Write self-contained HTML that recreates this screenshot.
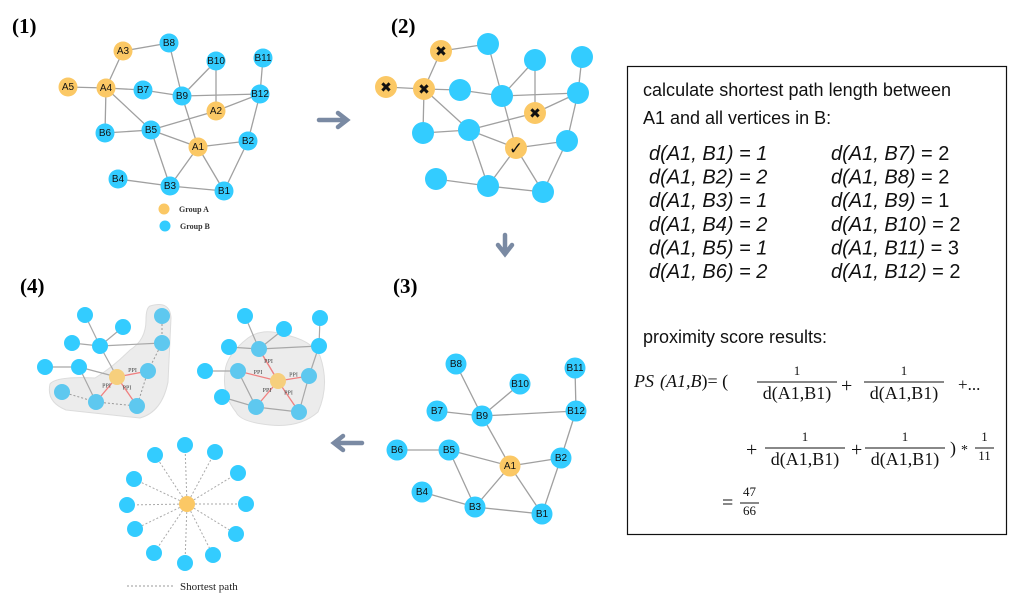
<!DOCTYPE html>
<html><head><meta charset="utf-8"><style>
body{margin:0;background:#fff;}
svg{display:block;}
.lbl{font-family:"Liberation Serif",serif;font-weight:bold;font-size:21px;}
.nl{font-family:"Liberation Sans",sans-serif;font-size:10px;text-anchor:middle;dominant-baseline:central;fill:#111;}
.t{font-family:"Liberation Sans",sans-serif;font-size:18px;fill:#111;}
.d{font-family:"Liberation Sans",sans-serif;font-size:20px;fill:#111;}
.m{font-family:"Liberation Serif","DejaVu Serif",serif;fill:#111;}
</style></head><body>
<svg id="s" width="1021" height="597" viewBox="0 0 1021 597" xmlns="http://www.w3.org/2000/svg">
<text class="lbl" x="12" y="33">(1)</text>
<text class="lbl" x="391" y="33">(2)</text>
<text class="lbl" x="20" y="293">(4)</text>
<text class="lbl" x="393" y="293">(3)</text>
<path d="M150,306 Q170,300 171,318 L168,382 Q162,412 140,418 L66,410 Q46,402 50,384 Q56,376 95,378 Q112,368 130,350 Q146,340 146,320 Q146,308 150,306 Z" fill="#ececec" stroke="#dcdcdc"/>
<path d="M248,338 Q262,328 282,334 Q312,340 320,356 Q330,385 318,412 Q300,428 270,425 Q240,422 236,412 Q222,395 225,372 Q226,355 248,338 Z" fill="#ececec" stroke="#dcdcdc"/>
<g id="g"></g>
<g fill="none" stroke="#7a8aa3" stroke-width="4.5" stroke-linecap="round">
<path d="M319,120 H345 M338,113 L347,120 L338,127"/>
<path d="M505,235 V252 M498,245 L505,254 L512,245"/>
<path d="M362,443 H336 M343,436 L334,443 L343,450"/>
</g>
<circle cx="164" cy="209" r="5.5" fill="#fbc865"/>
<text x="179" y="212" font-family="Liberation Serif,serif" font-size="8" font-weight="bold" fill="#333">Group A</text>
<circle cx="165" cy="226" r="5.5" fill="#33ccff"/>
<text x="180" y="229" font-family="Liberation Serif,serif" font-size="8" font-weight="bold" fill="#333">Group B</text>
<line x1="127" y1="586" x2="173" y2="586" stroke="#999" stroke-dasharray="2,2"/>
<text x="180" y="590" font-family="Liberation Serif,serif" font-size="11" fill="#222">Shortest path</text>
<rect x="627.5" y="66.5" width="379" height="468" fill="none" stroke="#111" stroke-width="1.2"/>
<text class="t" x="643" y="96" textLength="308">calculate shortest path length between</text>
<text class="t" x="643" y="124">A1 and all vertices in B:</text>
<g id="dl"></g>
<text class="t" x="643" y="343">proximity score results:</text>
<g class="m">
<text x="634" y="387" font-size="18" font-style="italic">PS</text>
<text x="660" y="387" font-size="18"><tspan font-style="italic">(A1,B</tspan>)= (</text>
<g id="fr"></g>
<text x="841" y="392" font-size="20">+</text>
<text x="958" y="390" font-size="17">+...</text>
<text x="746" y="456" font-size="20">+</text>
<text x="851" y="456" font-size="20">+</text>
<text x="950" y="454" font-size="18">)</text>
<text x="961" y="454" font-size="14">*</text>
<text x="722" y="509" font-size="20">=</text>
</g>
</svg>
<script>
const NS="http://www.w3.org/2000/svg";
const G=document.getElementById('g');
function mk(t,a,p){const e=document.createElementNS(NS,t);for(const k in a)e.setAttribute(k,a[k]);(p||G).appendChild(e);return e;}
const p1Names=["A3","B8","B10","B11","A5","A4","B7","B9","B12","A2","B6","B5","A1","B2","B4","B3","B1"];
const p1X=[123,169,216,263,68,106,143,182,260,216,105,151,198,248,118,170,224];
const p1Y=[51,43,61,58,87,88,90,96,94,111,133,130,147,141,179,186,191];
const p1Edges=[["A3","B8"],["A3","A4"],["A5","A4"],["A4","B7"],["B7","B9"],["B9","B12"],["B8","B9"],["B9","B10"],["B10","A2"],["A2","B12"],["B11","B12"],["A4","B6"],["A4","B5"],["B6","B5"],["B5","A2"],["B5","A1"],["B9","A1"],["A1","B2"],["B2","B12"],["A1","B3"],["A1","B1"],["B5","B3"],["B4","B3"],["B3","B1"],["B2","B1"]];
const p2X=[441,488,535,582,386,424,460,502,578,535,423,469,516,567,436,488,543];
const p2Y=[51,44,60,57,87,89,90,96,93,113,133,130,148,141,179,186,192];
const p2Marks={"A3":"✖","A5":"✖","A4":"✖","A2":"✖","A1":"✓"};
const p3Names=["B8","B10","B11","B7","B9","B12","B6","B5","A1","B2","B4","B3","B1"];
const p3X=[456,520,575,437,482,576,397,449,510,561,422,475,542];
const p3Y=[364,384,368,411,416,411,450,450,466,458,492,507,514];
const p3Edges=[["B8","B9"],["B10","B9"],["B7","B9"],["B9","B12"],["B11","B12"],["B9","A1"],["B6","B5"],["B5","A1"],["A1","B2"],["B2","B12"],["B5","B3"],["B4","B3"],["A1","B3"],["A1","B1"],["B3","B1"],["B2","B1"]];
const c4X=[85,123,72,100,45,79,162,162,148,62,96,137];
const c4Y=[315,327,343,346,367,367,316,343,371,392,402,406];
const c4Center=[117,377];
const c4bX=[245,284,229,259,205,238,320,319,309,222,256,299];
const c4bY=[316,329,347,349,371,371,318,346,376,397,407,412];
const c4bCenter=[278,381];
const starX=[185,155,215,134,238,127,246,135,236,154,213,185];
const starY=[445,455,452,479,473,505,504,529,534,553,555,563];
const starC=[187,504];
const dist=[["B1",1],["B2",2],["B3",1],["B4",2],["B5",1],["B6",2],["B7",2],["B8",2],["B9",1],["B10",2],["B11",3],["B12",2]];

const O="#fbc865",B="#33ccff",LB="#5ec8ef";
function drawNet(names,xs,ys,edges,r,labels,marks,tag){
  const idx={};names.forEach((n,i)=>idx[n]=i);
  edges.forEach(e=>{const a=idx[e[0]],b=idx[e[1]];
    const l=mk('line',{x1:xs[a],y1:ys[a],x2:xs[b],y2:ys[b],stroke:'#a0a0a0','stroke-width':1.3});
    
    });
  names.forEach((n,i)=>{
    const c=mk('circle',{cx:xs[i],cy:ys[i],r:r,fill:n[0]=='A'?O:B});
    
    
    if(labels){const t=mk('text',{x:xs[i],y:ys[i]+0.5,class:'nl'});t.textContent=n;
      
      }
    if(marks&&marks[n]){const t=mk('text',{x:xs[i],y:ys[i]+1,'font-size':marks[n]=='✓'?17:14,'font-weight':'bold','text-anchor':'middle','dominant-baseline':'central',fill:'#111','font-family':'DejaVu Sans,sans-serif'});t.textContent=marks[n];
      
      }
  });
}
drawNet(p1Names,p1X,p1Y,p1Edges,9.5,true,null,'p1');
drawNet(p1Names,p2X,p2Y,p1Edges,11,false,p2Marks,'p2');
drawNet(p3Names,p3X,p3Y,p3Edges,10.5,true,null,'p3');

function drawCluster(xs,ys,cen,tag,grayE,dashE,redE,inside){
  grayE.forEach(e=>{const a=e[0]<0?cen:[xs[e[0]],ys[e[0]]],b=[xs[e[1]],ys[e[1]]];
    const l=mk('line',{x1:a[0],y1:a[1],x2:b[0],y2:b[1],stroke:'#a8a8a8','stroke-width':1.2});
    
    });
  dashE.forEach(e=>{const l=mk('line',{x1:xs[e[0]],y1:ys[e[0]],x2:xs[e[1]],y2:ys[e[1]],stroke:'#999','stroke-width':1,'stroke-dasharray':'2,2'});
    
    });
  redE.forEach(i=>{const l=mk('line',{x1:cen[0],y1:cen[1],x2:xs[i],y2:ys[i],stroke:'#f08080','stroke-width':1.3});
    
    
    const mx=(cen[0]+xs[i])/2,my=(cen[1]+ys[i])/2;
    const t=mk('text',{x:mx,y:my-2,'font-size':6,'text-anchor':'middle','font-family':'Liberation Serif,serif',fill:'#444'});t.textContent='PPI';
    
    });
  xs.forEach((x,i)=>{const c=mk('circle',{cx:x,cy:ys[i],r:8,fill:inside.includes(i)?LB:B});
    
    });
  const c=mk('circle',{cx:cen[0],cy:cen[1],r:8,fill:'#f6cf7d'});
  
  
}
drawCluster(c4X,c4Y,c4Center,'cluster-left',[[0,3],[1,3],[2,3],[3,7],[4,5],[5,10],[-1,3],[-1,5]],[[6,7],[7,8],[8,11],[9,10],[10,11]],[8,10,11],[6,7,8,9,10,11]);
drawCluster(c4bX,c4bY,c4bCenter,'cluster-right',[[0,3],[1,3],[2,3],[3,7],[4,5],[6,7],[7,8],[8,11],[10,11],[5,10],[9,10],[-1,3]],[],[3,5,8,10,11],[3,5,8,10,11]);
starX.forEach((x,i)=>{const l=mk('line',{x1:starC[0],y1:starC[1],x2:x,y2:starY[i],stroke:'#aaa','stroke-width':1,'stroke-dasharray':'2,2'});
  
  });
starX.forEach((x,i)=>{const c=mk('circle',{cx:x,cy:starY[i],r:8,fill:B});
  
  });
{const c=mk('circle',{cx:starC[0],cy:starC[1],r:8,fill:'#fbc865'});

}
const DL=document.getElementById('dl');
dist.forEach((d,i)=>{const col=i<6?0:1,row=i%6;
  const t=mk('text',{x:col?831:649,y:160+row*23.6,class:'d'},DL);
  t.innerHTML='<tspan font-style="italic">d(A1, '+d[0]+')</tspan>'+(col?' = '+d[1]:'<tspan font-style="italic"> = '+d[1]+'</tspan>');
  
  });
const FR=document.getElementById('fr');
const fracX=[757,864,765,865],fracY=[382,382,448,448];
function frac(x,y,w,num,den,fs,nfs,tag){
  const n=mk('text',{x:x+w/2,y:y-7,'font-size':nfs,'text-anchor':'middle',class:'m'},FR);n.textContent=num;
  
  
  const l=mk('line',{x1:x,y1:y,x2:x+w,y2:y,stroke:'#111','stroke-width':1},FR);
  
  
  const d=mk('text',{x:x+w/2,y:y+fs-1,'font-size':fs,'text-anchor':'middle',class:'m'},FR);d.textContent=den;
  
  
}
fracX.forEach((x,i)=>frac(x,fracY[i],80,'1','d(A1,B1)',18,13,'term-'+(i+1)));
frac(975,448,19,'1','11',13,13,'scale-factor');
frac(740,503,19,'47','66',13,13,'result');
</script>
</body></html>
